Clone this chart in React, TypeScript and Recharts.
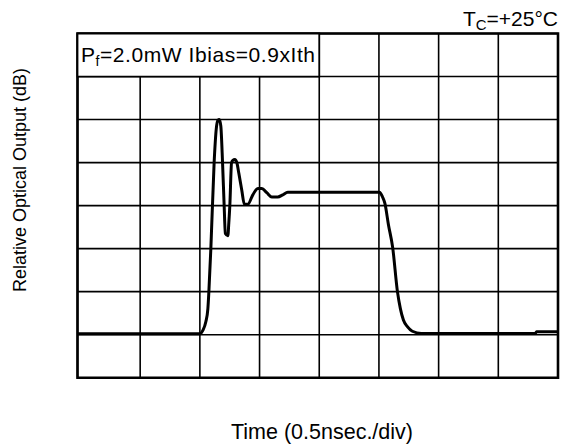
import { LineChart, Line, XAxis, YAxis, CartesianGrid, ReferenceArea } from "recharts";

// time in divisions (0.5 ns/div), output in grid divisions
const timeDiv = [
  -0.05, 2.0, 2.05, 2.1, 2.134, 2.151, 2.184, 2.239, 2.276, 2.301, 2.326, 2.351, 2.38,
  2.407, 2.427, 2.469, 2.485, 2.502, 2.531, 2.552, 2.586, 2.619, 2.653, 2.703, 2.745,
  2.803, 2.887, 2.971, 3.038, 3.121, 3.205, 3.305, 3.389, 3.473, 5.01, 5.06, 5.1, 5.16,
  5.23, 5.31, 5.36, 5.41, 5.48, 5.56, 5.71, 7.62, 7.64, 8.0,
];
const outputDiv = [
  1.02, 1.02, 1.1, 1.3, 1.6, 2.0, 3.0, 5.0, 5.8, 5.98, 6.0, 5.85, 5.0,
  4.0, 3.35, 3.3, 3.6, 4.0, 5.0, 5.05, 5.07, 5.0, 4.75, 4.35, 4.03,
  4.03, 4.25, 4.4, 4.4, 4.3, 4.2, 4.2, 4.25, 4.31, 4.31, 4.2, 4.05, 3.55,
  3.03, 2.0, 1.6, 1.34, 1.18, 1.08, 1.03, 1.03, 1.07, 1.07,
];
const xTicks = [1, 2, 3, 4, 5, 6, 7];
const yTicks = [1, 2, 3, 4, 5, 6, 7];

const data = timeDiv.map((t, i) => ({ t, v: outputDiv[i] }));

const font = "'Liberation Sans', Arial, Helvetica, sans-serif";

const App = () => {
  return (
    <div style={{ position: "fixed", left: 0, top: 0, width: 561, height: 445, background: "#fff" }}>
      <LineChart
        width={561}
        height={445}
        data={data}
        margin={{ top: 33.5, right: 3, bottom: 67.3, left: 77.5 }}
      >
        <XAxis type="number" dataKey="t" domain={[-0.05, 8]} ticks={xTicks} hide />
        <YAxis type="number" domain={[0, 8]} ticks={yTicks} hide />
        <CartesianGrid stroke="#000" strokeWidth={1.6} strokeOpacity={1} />
        <ReferenceArea
          x1={-0.05}
          x2={8}
          y1={0}
          y2={8}
          fill="none"
          fillOpacity={0}
          stroke="#000"
          strokeWidth={2.6}
          strokeOpacity={1}
        />
        <ReferenceArea
          x1={-0.05}
          x2={4}
          y1={7}
          y2={8}
          fill="#fff"
          fillOpacity={1}
          stroke="#000"
          strokeWidth={1.8}
          strokeOpacity={1}
        />
        <Line
          type="monotone"
          dataKey="v"
          stroke="#000"
          strokeWidth={3}
          dot={false}
          isAnimationActive={false}
        />
      </LineChart>
      <svg
        width={561}
        height={445}
        style={{ position: "absolute", left: 0, top: 0, pointerEvents: "none" }}
        fontFamily={font}
      >
        <text x={81} y={62} fontSize={21} fill="#000" textLength={234} lengthAdjust="spacing">
          P<tspan fontSize={14} dy={4}>f</tspan>
          <tspan dy={-4}>=2.0mW Ibias=0.9xIth</tspan>
        </text>
        <text x={558} y={26} fontSize={21} fill="#000" textAnchor="end">
          T<tspan fontSize={15} dy={4}>C</tspan>
          <tspan dy={-4}>=+25°C</tspan>
        </text>
        <text x={322} y={439} fontSize={21.5} fill="#000" textAnchor="middle">
          Time (0.5nsec./div)
        </text>
        <text
          x={0}
          y={0}
          fontSize={18}
          fill="#000"
          textAnchor="middle"
          transform="translate(26 180) rotate(-90)"
        >
          Relative Optical Output (dB)
        </text>
      </svg>
    </div>
  );
};

export default App;
